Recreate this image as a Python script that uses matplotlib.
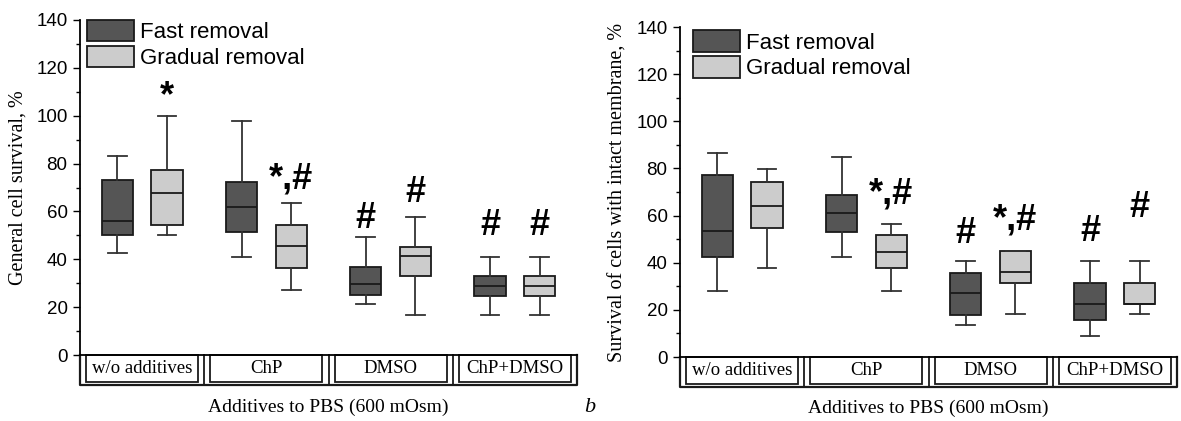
import numpy as np
import matplotlib.pyplot as plt
from matplotlib.patches import Patch, Rectangle
import matplotlib.transforms as mtransforms

# categories and series
categories = ["w/o additives", "ChP", "DMSO", "ChP+DMSO"]
series_names = ["Fast removal", "Gradual removal"]
series_colors = ["#555555", "#cccccc"]

# box stats per category: (whislo, q1, med, q3, whishi)
left_fast = [(42.5, 50.3, 55.9, 73.1, 83.2),
             (41.1, 51.5, 61.8, 72.1, 97.9),
             (21.2, 25.2, 29.5, 36.9, 49.4),
             (16.6, 24.7, 28.8, 32.9, 41.1)]
left_gradual = [(50.0, 54.5, 67.7, 77.4, 100.0),
                (27.3, 36.5, 45.4, 54.3, 63.7),
                (16.6, 33.0, 41.2, 45.1, 57.7),
                (16.6, 24.7, 28.8, 32.9, 41.1)]
right_fast = [(28.2, 42.4, 53.6, 77.2, 86.5),
              (42.3, 53.0, 61.0, 68.9, 84.9),
              (13.4, 18.0, 27.0, 35.6, 40.6),
              (8.9, 15.9, 22.6, 31.6, 40.6)]
right_gradual = [(37.6, 54.9, 63.9, 74.2, 79.8),
                 (28.2, 37.6, 44.5, 51.6, 56.4),
                 (18.1, 31.6, 36.1, 45.1, 45.1),
                 (18.1, 22.6, 22.6, 31.6, 40.6)]

# significance marks: (category index, series index, text, y)
left_marks = [(0, 1, "*", 108), (1, 1, "*,#", 73.5), (2, 0, "#", 57),
              (2, 1, "#", 68), (3, 0, "#", 54), (3, 1, "#", 54)]
right_marks = [(1, 1, "*,#", 69.3), (2, 0, "#", 52.5), (2, 1, "*,#", 58),
               (3, 0, "#", 53.4), (3, 1, "#", 63.6)]

sans = "Liberation Sans"
serif = "Liberation Serif"
plt.rcParams["font.family"] = sans


def stats(rows):
    return [dict(whislo=r[0], q1=r[1], med=r[2], q3=r[3], whishi=r[4], fliers=[])
            for r in rows]


def draw_panel(ax, fast, gradual, marks, ylabel, legend_xy):
    offs = [-0.2, 0.2]
    for s, data in enumerate([fast, gradual]):
        pos = np.arange(len(categories)) + 0.5 + offs[s]
        ax.bxp(stats(data), positions=pos, widths=0.25, capwidths=0.15,
               patch_artist=True, manage_ticks=False,
               boxprops=dict(facecolor=series_colors[s], edgecolor="#1a1a1a", linewidth=1.3),
               medianprops=dict(color="#1a1a1a", linewidth=1.3),
               whiskerprops=dict(color="#333333", linewidth=1.3),
               capprops=dict(color="#333333", linewidth=1.3))
    for c, s, txt, y in marks:
        ax.text(c + 0.5 + offs[s], y, txt, ha="center", va="center",
                fontsize=26, fontweight="bold", family=sans)

    ax.set_xlim(0, len(categories))
    ax.set_ylim(0, 140)
    ax.set_yticks(np.arange(0, 141, 20))
    ax.set_yticks(np.arange(10, 140, 20), minor=True)
    ax.tick_params(axis="y", which="major", length=5, width=1, labelsize=13.5, pad=4)
    ax.tick_params(axis="y", which="minor", length=3, width=1)
    ax.set_xticks([])
    for side in ["top", "right"]:
        ax.spines[side].set_visible(False)
    for side in ["left", "bottom"]:
        ax.spines[side].set_linewidth(1.3)
    ax.set_ylabel(ylabel, family=serif, fontsize=14.5, labelpad=6)

    # category strip below the axis
    tr = mtransforms.blended_transform_factory(ax.transData, ax.transAxes)
    depth = -0.09
    n = len(categories)
    ax.plot([0, 0, n, n], [0, depth, depth, 0], transform=tr, color="#1a1a1a",
            lw=1.6, clip_on=False)
    for i in range(1, n):
        ax.plot([i, i], [0, depth], transform=tr, color="#1a1a1a", lw=1.3, clip_on=False)
    for i, name in enumerate(categories):
        ax.add_patch(Rectangle((i + 0.05, depth + 0.008), 0.9, -depth - 0.008,
                               transform=tr, facecolor="white", edgecolor="#1a1a1a",
                               lw=1.3, clip_on=False))
        ax.text(i + 0.5, depth / 2 + 0.004, name, transform=tr, ha="center", va="center",
                family=serif, fontsize=13.5)
    ax.text(n / 2, -0.155, "Additives to PBS (600 mOsm)", transform=tr, ha="center",
            va="center", family=serif, fontsize=14)

    handles = [Patch(facecolor=series_colors[k], edgecolor="#1a1a1a", lw=1.3)
               for k in range(2)]
    ax.legend(handles, series_names, loc="upper left", frameon=False, fontsize=16,
              handlelength=2.1, handleheight=1.1, labelspacing=0.12,
              handletextpad=0.3, borderaxespad=0.0, borderpad=0.0,
              bbox_to_anchor=legend_xy)


fig = plt.figure(figsize=(11.81, 4.21), dpi=100)
W, H = 1181, 421
ax1 = fig.add_axes([80 / W, (H - 355) / H, (577 - 80) / W, 335 / H])
ax2 = fig.add_axes([680 / W, (H - 357) / H, (1177 - 680) / W, 330 / H])

draw_panel(ax1, left_fast, left_gradual, left_marks, "General cell survival, %",
           (0.014, 1.0))
draw_panel(ax2, right_fast, right_gradual, right_marks,
           "Survival of cells with intact membrane, %", (0.026, 0.99))

fig.text(590 / W, (H - 408) / H, "b", family=serif, style="italic", fontsize=16,
         ha="center", va="center")

fig.savefig("out.png", dpi=100)
